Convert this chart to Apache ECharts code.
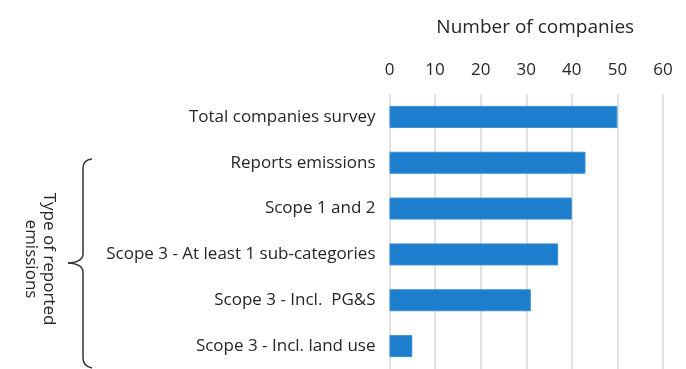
<!DOCTYPE html>
<html>
<head>
<meta charset="utf-8">
<script src="https://cdn.jsdelivr.net/npm/echarts@6/dist/echarts.min.js"></script>
<style>
  html, body { margin: 0; padding: 0; background: #fff; }
  #chart { width: 686px; height: 369px; }
</style>
</head>
<body>
<div id="chart"></div>
<script>
// Survey categories, top to bottom
const categories = [
  'Total companies survey',
  'Reports emissions',
  'Scope 1 and 2',
  'Scope 3 - At least 1 sub-categories',
  'Scope 3 - Incl.  PG&S',
  'Scope 3 - Incl. land use'
];
// Number of companies per category
const companyCounts = [50, 43, 40, 37, 31, 5];
// Value-axis ticks
const axisMin = 0;
const axisMax = 60;
const axisStep = 10;

const FONT = '"Open Sans", sans-serif';
const TEXT = '#262626';
const BRACE = { fill: null, stroke: '#333', lineWidth: 1.5 };

// Curly brace grouping the emission-type rows
function curve(x1, y1, cx, cy, x2, y2) {
  return { type: 'bezierCurve', shape: { x1, y1, cpx1: cx, cpy1: cy, x2, y2 }, style: BRACE };
}
function seg(x1, y1, x2, y2) {
  return { type: 'line', shape: { x1, y1, x2, y2 }, style: BRACE };
}

const chart = echarts.init(document.getElementById('chart'), null, { renderer: 'canvas' });

chart.setOption({
  animation: false,
  backgroundColor: '#ffffff',
  grid: { left: 389.5, width: 273.5, top: 94, height: 284, containLabel: false },
  xAxis: {
    type: 'value',
    position: 'top',
    min: axisMin,
    max: axisMax,
    interval: axisStep,
    name: 'Number of companies',
    nameLocation: 'middle',
    nameGap: 57,
    nameTextStyle: { fontFamily: FONT, fontSize: 19, color: TEXT, padding: [0, 0, 0, 18] },
    axisLine: { show: false },
    axisTick: { show: false },
    axisLabel: { fontFamily: FONT, fontSize: 17, color: TEXT, margin: 15 },
    splitLine: { show: true, lineStyle: { color: '#d9d9d9', width: 1.5 } }
  },
  yAxis: {
    type: 'category',
    inverse: true,
    data: categories,
    axisLine: { show: false },
    axisTick: { show: false },
    axisLabel: { fontFamily: FONT, fontSize: 17, color: TEXT, margin: 14 }
  },
  series: [{
    type: 'bar',
    data: companyCounts,
    barCategoryGap: '52%',
    itemStyle: { color: '#1c7ecc', borderColor: '#3a8fd4', borderWidth: 1 }
  }],
  graphic: [
    curve(92, 159, 83, 160, 83, 168),
    seg(83, 168, 83, 254),
    curve(83, 254, 83, 262, 68, 263),
    curve(68, 263, 83, 264, 83, 272),
    seg(83, 272, 83, 358),
    curve(83, 358, 83, 366, 92, 368),
    {
      type: 'text',
      x: 40,
      y: 259,
      rotation: -Math.PI / 2,
      style: {
        text: 'Type of reported\nemissions',
        fontFamily: FONT,
        fontSize: 17,
        lineHeight: 18,
        fill: TEXT,
        align: 'center',
        verticalAlign: 'middle'
      }
    }
  ]
});
</script>
</body>
</html>
